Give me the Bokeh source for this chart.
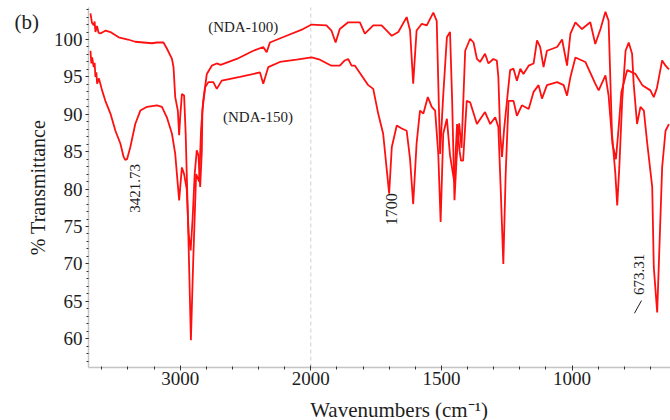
import numpy as np
from bokeh.plotting import figure
from bokeh.models import (Range1d, FixedTicker, SingleIntervalTicker, Label,
                          ColumnDataSource, CustomJSTickFormatter)
from bokeh.embed import file_html
from bokeh.resources import INLINE

# ---- data (wavenumber cm-1, % transmittance) ----
wn_100 = [3687, 3675, 3662, 3655, 3649, 3637, 3625, 3611, 3570, 3534, 3471, 3400, 3344, 3280,
          3216, 3178, 3128, 3102, 3063, 3051, 3038, 3018, 3008, 3000, 2987, 2970, 2958, 2939,
          2918, 2901, 2878, 2855, 2840, 2824, 2796, 2758, 2720, 2690, 2567, 2440, 2364, 2338,
          2313, 2186, 2059, 1997, 1940, 1921, 1905, 1889, 1857, 1812, 1793, 1761, 1729, 1690,
          1665, 1633, 1620, 1608, 1595, 1575, 1556, 1531, 1518, 1505, 1494, 1479, 1467, 1459,
          1450, 1442, 1432, 1423, 1409, 1390, 1377, 1364, 1352, 1333, 1320, 1301, 1288, 1282,
          1275, 1268, 1260, 1249, 1237, 1224, 1211, 1198, 1186, 1166, 1147, 1134, 1122, 1109,
          1096, 1057, 1038, 1019, 1006, 987, 962, 930, 911, 891, 872, 860, 847, 834, 827, 819,
          808, 795, 783, 770, 764, 751, 738, 725, 712, 693, 687, 674, 668, 655, 642, 629]
t_100 = [103.5, 102.2, 101.9, 102.4, 101.0, 101.8, 100.9, 100.8, 101.2, 101.0, 100.3, 100.0,
         99.7, 99.6, 99.5, 99.6, 99.6, 98.8, 97.4, 96.3, 92.3, 90.5, 87.2, 89.6, 92.7, 92.5,
         87.4, 75.0, 59.8, 70.0, 82.0, 81.0, 88.0, 91.8, 95.4, 96.5, 96.8, 96.6, 97.4, 98.5,
         99.0, 98.3, 99.6, 100.5, 101.4, 102.0, 101.9, 101.2, 99.6, 101.4, 102.3, 102.3, 100.8,
         101.9, 101.9, 100.5, 101.0, 103.0, 101.2, 94.1, 101.2, 102.1, 101.9, 103.6, 102.5,
         84.7, 92.0, 100.3, 101.0, 92.0, 78.5, 84.0, 88.8, 85.5, 98.5, 100.1, 99.6, 97.4, 97.0,
         98.1, 96.8, 97.4, 97.2, 95.0, 87.4, 84.3, 88.0, 91.8, 95.9, 96.1, 94.5, 96.1, 95.4,
         96.5, 96.8, 99.9, 99.0, 96.3, 98.5, 99.0, 100.0, 96.5, 100.8, 102.3, 101.4, 102.3,
         99.4, 101.4, 103.7, 102.5, 87.4, 82.0, 77.8, 82.9, 91.8, 98.5, 99.6, 98.1, 94.1, 88.7,
         91.0, 90.5, 86.1, 80.3, 69.6, 63.5, 69.6, 82.9, 87.8, 88.7]

wn_150 = [3687, 3680, 3674, 3662, 3655, 3649, 3642, 3636, 3622, 3598, 3573, 3534, 3496, 3458,
          3433, 3421, 3407, 3382, 3344, 3305, 3254, 3178, 3140, 3102, 3063, 3038, 3025, 3008,
          2987, 2970, 2950, 2935, 2920, 2905, 2889, 2873, 2860, 2847, 2834, 2830, 2809, 2784,
          2746, 2720, 2682, 2542, 2389, 2364, 2326, 2237, 2109, 1997, 1965, 1921, 1889, 1870,
          1857, 1844, 1831, 1780, 1761, 1742, 1723, 1700, 1690, 1671, 1652, 1633, 1620, 1608,
          1595, 1582, 1569, 1552, 1537, 1524, 1512, 1503, 1493, 1479, 1467, 1451, 1440, 1430,
          1425, 1417, 1403, 1390, 1364, 1333, 1313, 1294, 1282, 1273, 1263, 1254, 1243, 1224,
          1211, 1192, 1166, 1147, 1128, 1115, 1096, 1057, 1032, 1019, 1006, 987, 949, 911, 898,
          872, 860, 845, 832, 822, 811, 789, 757, 731, 700, 687, 675, 655, 642, 629]
t_150 = [98.5, 96.8, 97.6, 96.3, 96.9, 95.0, 95.6, 94.1, 94.8, 93.2, 91.8, 90.1, 87.8, 86.1,
         84.3, 83.9, 84.0, 85.6, 88.7, 90.5, 91.0, 91.2, 91.0, 89.6, 87.4, 84.7, 82.0, 78.5,
         82.9, 82.0, 80.0, 74.0, 71.8, 76.0, 82.0, 85.2, 84.5, 80.3, 85.2, 90.5, 93.6, 94.3,
         94.3, 93.4, 94.5, 95.0, 95.6, 94.1, 96.3, 97.0, 97.3, 97.6, 97.3, 96.5, 96.5, 97.2,
         97.4, 96.5, 96.5, 93.9, 93.4, 90.1, 87.4, 79.4, 85.6, 88.5, 88.1, 87.8, 84.0, 78.0,
         86.1, 90.5, 90.1, 92.3, 91.0, 90.5, 84.7, 75.6, 87.4, 89.4, 84.5, 81.0, 88.7, 85.0,
         83.8, 83.8, 91.8, 91.6, 88.7, 90.3, 88.7, 89.6, 88.3, 80.0, 70.0, 82.0, 91.8, 91.8,
         89.8, 91.2, 90.7, 93.0, 93.9, 92.1, 93.9, 94.3, 93.9, 92.5, 95.0, 97.6, 97.0, 94.1,
         93.2, 95.2, 92.5, 86.0, 84.0, 88.0, 93.0, 95.9, 95.4, 93.9, 93.2, 92.3, 93.5, 97.2,
         96.5, 96.0]

x_major_labels = [3000, 2000, 1500, 1000]
x_minor_wn = [3600, 3400, 3200, 3000, 2800, 2600, 2400, 2200, 2000, 1900, 1800, 1700, 1600,
              1500, 1400, 1300, 1200, 1100, 1000, 900, 800, 700]
series_names = ["(NDA-100)", "(NDA-150)"]
peak_labels = ["3421.73", "1700", "673.31"]
split_wn = 2000


def axis_pos(w):
    """OMNIC-style split axis: above 2000 cm-1 is drawn at half scale."""
    w = np.asarray(w, dtype=float)
    return np.where(w > split_wn, split_wn + (w - split_wn) / 2.0, w)


SERIF = "Liberation Serif"
RED = "#ff1010"
TXT = "#1e1e1e"

W, H = 670, 420
# axis box (in data units) and its pixel placement inside the canvas
X0, X1 = float(axis_pos(3702)), float(axis_pos(623))     # left / right of axis box
Y0, Y1 = 56.15, 104.28                                     # bottom / top of axis box
LEFT_PX, TOP_PX, BOTTOM_PX = 88, 7, 53
sx = (X0 - X1) / (W - LEFT_PX)
sy = (Y1 - Y0) / (H - TOP_PX - BOTTOM_PX)
x_range = Range1d(X0 + LEFT_PX * sx, X1)
y_range = Range1d(Y0 - BOTTOM_PX * sy, Y1 + TOP_PX * sy)

p = figure(width=W, height=H, output_backend="svg", toolbar_location=None,
           x_range=x_range, y_range=y_range, min_border=0)
p.outline_line_color = None
p.xgrid.visible = False
p.ygrid.visible = False
p.background_fill_color = "white"
p.border_fill_color = "white"

# dashed divider at the scale change
p.segment(x0=[split_wn], y0=[Y0], x1=[split_wn], y1=[Y1], line_color="#cfcfcf",
          line_dash="4 3", line_width=1)

src100 = ColumnDataSource(dict(x=axis_pos(wn_100), y=t_100))
src150 = ColumnDataSource(dict(x=axis_pos(wn_150), y=t_150))
p.line("x", "y", source=src150, line_color=RED, line_width=1.8)
p.line("x", "y", source=src100, line_color=RED, line_width=1.8)

# axes, pinned to the axis box
xa = p.xaxis[0]
xa.fixed_location = Y0
xa.bounds = (X1, X0)
xa.ticker = FixedTicker(ticks=[float(v) for v in axis_pos(x_major_labels)],
                        minor_ticks=[float(v) for v in axis_pos(x_minor_wn)])
xa.formatter = CustomJSTickFormatter(code="""
    const w = tick > 2000 ? 2000 + (tick - 2000) * 2 : tick;
    return Math.round(w).toString();
""")
ya = p.yaxis[0]
ya.fixed_location = X0
ya.bounds = (Y0, Y1)
ya.ticker = SingleIntervalTicker(interval=5, num_minor_ticks=5)

for ax in (xa, ya):
    ax.axis_line_color = "#c4c4c4"
    ax.axis_line_width = 1.5
    ax.major_tick_line_color = "#333333"
    ax.minor_tick_line_color = "#333333"
    ax.major_label_text_font = SERIF
    ax.major_label_text_font_size = "19px"
    ax.major_label_text_color = TXT

xa.major_tick_in = 2
xa.major_tick_out = 3
xa.minor_tick_in = 1
xa.minor_tick_out = 2
xa.major_label_standoff = 1
ya.major_tick_in = 0
ya.major_tick_out = 3
ya.minor_tick_in = 0
ya.minor_tick_out = 2
ya.major_label_standoff = 3

# axis titles
p.add_layout(Label(x=X0 + 51 * sx, y=(Y0 + Y1) / 2, text="% Transmittance", angle=np.pi / 2,
                   text_font=SERIF, text_font_size="20px", text_color=TXT,
                   text_align="center", text_baseline="middle"))
p.add_layout(Label(x=float(axis_pos(1662)), y=Y0 - 42 * sy, text="Wavenumbers (cm\u207b\u00b9)",
                   text_font=SERIF, text_font_size="21px", text_color=TXT,
                   text_align="center", text_baseline="middle"))

# annotations
p.add_layout(Label(x=float(axis_pos(2786)), y=101.7, text=series_names[0], text_font=SERIF,
                   text_font_size="15px", text_color=TXT, text_align="left",
                   text_baseline="middle"))
p.add_layout(Label(x=float(axis_pos(2672)), y=89.6, text=series_names[1], text_font=SERIF,
                   text_font_size="15px", text_color=TXT, text_align="left",
                   text_baseline="middle"))
p.add_layout(Label(x=float(axis_pos(3344)), y=80.1, text=peak_labels[0], angle=np.pi / 2,
                   text_font=SERIF, text_font_size="15px", text_color=TXT,
                   text_align="center", text_baseline="middle"))
p.add_layout(Label(x=float(axis_pos(1691)), y=77.3, text=peak_labels[1], angle=np.pi / 2,
                   text_font=SERIF, text_font_size="16px", text_color=TXT,
                   text_align="center", text_baseline="middle"))
p.add_layout(Label(x=float(axis_pos(742)), y=68.6, text=peak_labels[2], angle=np.pi / 2,
                   text_font=SERIF, text_font_size="15px", text_color=TXT,
                   text_align="center", text_baseline="middle"))
p.segment(x0=[float(axis_pos(761))], y0=[63.4], x1=[float(axis_pos(734))], y1=[65.1],
          line_color=TXT, line_width=1)

p.add_layout(Label(x=X0 + 74 * sx, y=Y1 - 2 * sy, text="(b)",
                   text_font=SERIF, text_font_size="21px", text_color=TXT,
                   text_align="left", text_baseline="top"))

open("out.html", "w").write(file_html(p, INLINE))
